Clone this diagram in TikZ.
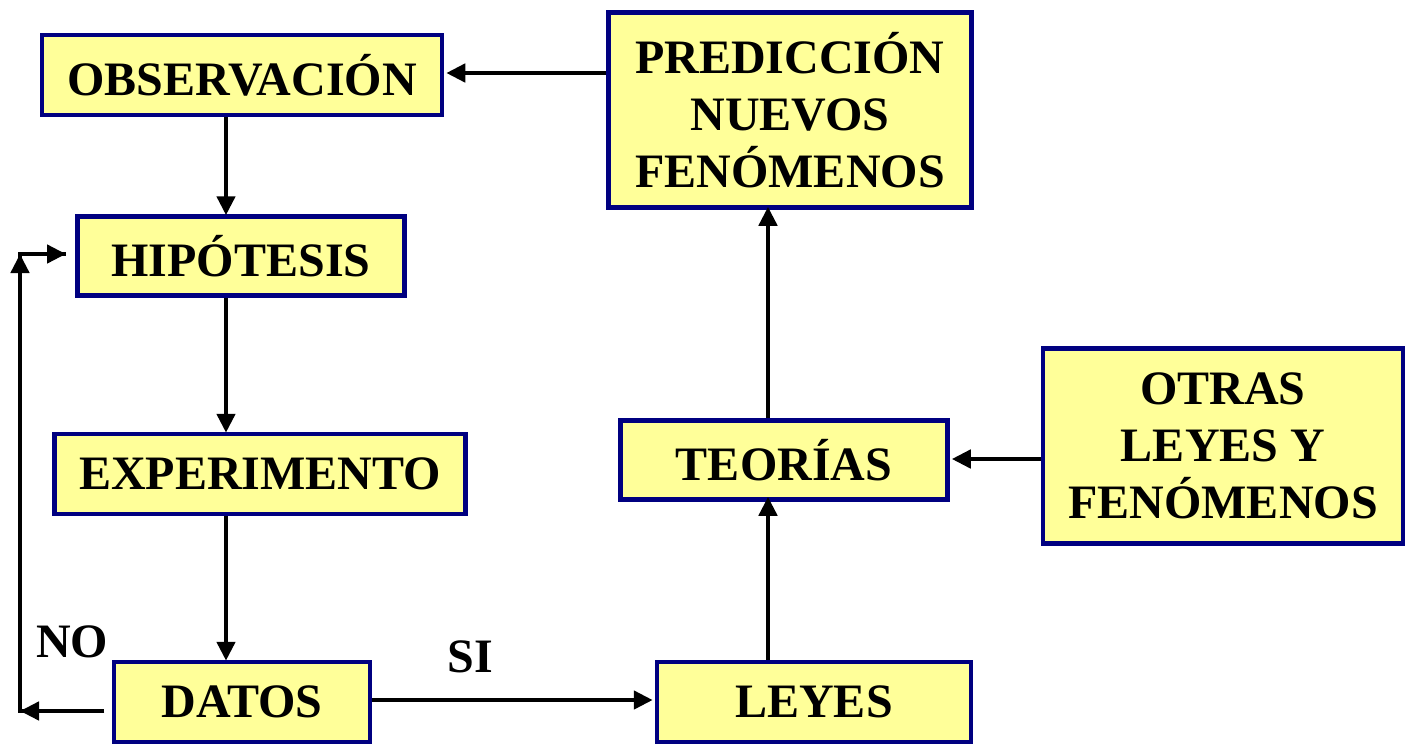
\documentclass[tikz,border=0pt]{standalone}
\usepackage{fontspec}
\setmainfont{Liberation Serif}
\usetikzlibrary{arrows.meta}
\definecolor{boxfill}{HTML}{FFFF99}
\definecolor{boxline}{HTML}{000080}
\tikzset{
  box/.style={draw=boxline, fill=boxfill, line width=4.5pt, inner sep=0pt, align=center,
    font=\fontsize{48}{57}\selectfont\bfseries},
  conn/.style={line width=4.5pt, -{Triangle[length=19pt,width=18pt]}},
  lbl/.style={font=\fontsize{48}{52}\selectfont\bfseries, inner sep=0pt}
}
\begin{document}
\begin{tikzpicture}[x=1pt,y=-1pt]
\useasboundingbox (0,0) rectangle (1405,744);
\node[box, minimum width=400, minimum height=80] (obs) at (242,75) {OBSERVACIÓN};
\node[box, minimum width=363, minimum height=195] (pred) at (790,110) {PREDICCIÓN\\NUEVOS\\FENÓMENOS};
\node[box, minimum width=327, minimum height=79] (hip) at (241,256) {HIPÓTESIS};
\node[box, minimum width=411, minimum height=80] (exp) at (260,474) {EXPERIMENTO};
\node[box, minimum width=256, minimum height=80] (dat) at (242,702) {DATOS};
\node[box, minimum width=314, minimum height=80] (ley) at (814,702) {LEYES};
\node[box, minimum width=327, minimum height=79] (teo) at (784,460) {TEORÍAS};
\node[box, minimum width=360, minimum height=195] (otr) at (1223,446) {OTRAS\\LEYES Y\\FENÓMENOS};
\node[lbl] (no) at (72,642) {NO};
\node[lbl] (si) at (470,657) {SI};
% connectors
\draw[conn] (pred.west |- 0,73) -- ([xshift=2pt]obs.east |- 0,73);
\draw[conn] (obs.south -| 226,0) -- ([yshift=-1pt]hip.north -| 226,0);
\draw[conn] (hip.south -| 226,0) -- ([yshift=-1pt]exp.north -| 226,0);
\draw[conn] (exp.south -| 226,0) -- ([yshift=-1pt]dat.north -| 226,0);
\draw[conn] (dat.east |- 0,700) -- ([xshift=-2pt]ley.west |- 0,700);
\draw[conn] (ley.north -| 768,0) -- ([yshift=5pt]teo.south -| 768,0);
\draw[conn] (teo.north -| 768,0) -- ([yshift=3pt]pred.south -| 768,0);
\draw[conn] (otr.west |- 0,459) -- ([xshift=2pt]teo.east |- 0,459);
\coordinate (c1) at (20,711);
\coordinate (c2) at (20,254);
\coordinate (d1) at (104,711);
\coordinate (h1) at (66,254);
\draw[line width=4.5pt] (d1) -- (c1) -- (c2) -- (h1);
\draw[conn] (d1) -- (c1);
\draw[conn] (c1) -- (c2);
\draw[conn] (c2) -- (h1);
\end{tikzpicture}
\end{document}
